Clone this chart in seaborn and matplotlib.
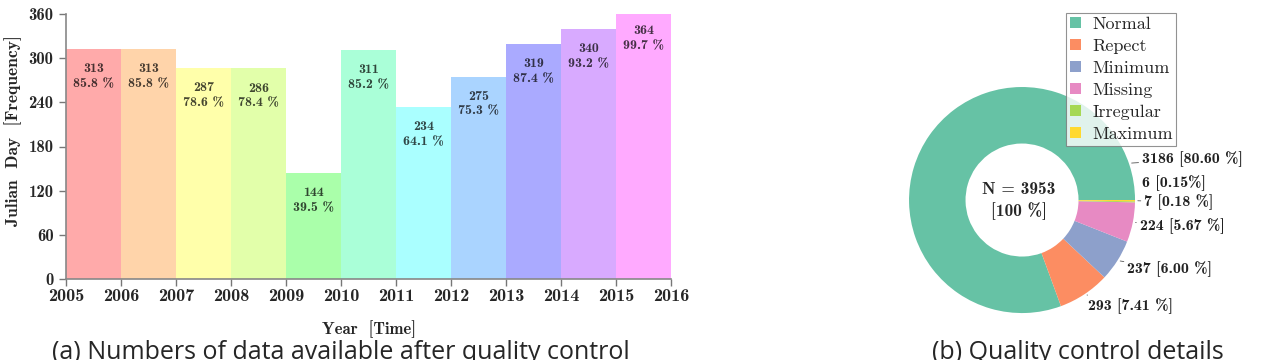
import numpy as np
import pandas as pd
import seaborn as sns
import matplotlib.pyplot as plt
from matplotlib.colors import to_rgb

sns.set_theme(style="white")
plt.rcParams["font.family"] = ["cmb10", "DejaVu Serif"]
plt.rcParams["axes.unicode_minus"] = False

# --- data ---
years = [2005, 2006, 2007, 2008, 2009, 2010, 2011, 2012, 2013, 2014, 2015]
days = [313, 313, 287, 286, 144, 311, 234, 275, 319, 340, 364]
pcts = ["85.8 %", "85.8 %", "78.6 %", "78.4 %", "39.5 %", "85.2 %",
        "64.1 %", "75.3 %", "87.4 %", "93.2 %", "99.7 %"]
bar_colors = ["#FFAAAA", "#FFD4AA", "#FFFFAA", "#E2FFAA", "#AAFFAA", "#AAFFD8",
              "#AAFFFF", "#AAD4FF", "#AAAAFF", "#D8AAFF", "#FFAAFF"]

qc_labels = ["Normal", "Repect", "Minimum", "Missing", "Irregular", "Maximum"]
qc_counts = [3186, 293, 237, 224, 6, 7]
qc_texts = ["3186 [80.60 %]", "293 [7.41 %]", "237 [6.00 %]", "224 [5.67 %]",
            "6 [0.15%]", "7 [0.18 %]"]

fig = plt.figure(figsize=(12.81, 3.6), dpi=100)

# --- (a) bars: each year fills the interval [year, year+1] ---
ax = fig.add_axes([66 / 1281, 1 - 279 / 360, 605 / 1281, 265 / 360])
df = pd.DataFrame({"year": years, "days": days})
df["mid"] = df["year"] + 0.5
sns.barplot(data=df, x="mid", y="days", hue="year",
            palette=dict(zip(years, bar_colors)), native_scale=True,
            width=1, dodge=False, saturation=1, linewidth=0,
            legend=False, ax=ax)
for y, d, p, c in zip(df["mid"], days, pcts, bar_colors):
    tc = tuple(v * 0.28 for v in to_rgb(c))
    ax.annotate(str(d), (y, d), xytext=(0, -14.5), textcoords="offset points",
                ha="center", va="center", fontsize=10, color=tc,
                annotation_clip=False)
    ax.annotate(p, (y, d), xytext=(0, -25.3), textcoords="offset points",
                ha="center", va="center", fontsize=10, color=tc,
                annotation_clip=False)
ax.set_xlim(2005, 2016)
ax.set_ylim(0, 360)
ax.set_xticks(range(2005, 2017))
ax.set_xticklabels([str(v) for v in range(2005, 2017)])
ax.set_yticks(range(0, 361, 60))
ax.tick_params(axis="both", direction="out", length=5, width=1, color="#777777",
               bottom=True, left=True)
ax.tick_params(axis="x", labelsize=13, pad=2)
ax.tick_params(axis="y", labelsize=12, pad=4)
for s in ["top", "right"]:
    ax.spines[s].set_visible(False)
for s in ["left", "bottom"]:
    ax.spines[s].set_color("#888888")
    ax.spines[s].set_linewidth(1.2)
ax.set_xlabel("Year  [Time]", fontsize=12)
ax.set_ylabel("Julian  Day  [Frequency]", fontsize=12.5)
ax.xaxis.set_label_coords(0.501, -0.155)
ax.yaxis.set_label_coords(-0.073, 0.56)

# --- (b) donut ---
ax2 = fig.add_axes([880 / 1281, 1 - 330 / 360, 401 / 1281, 330 / 360])
pal = sns.color_palette("Set2", 6)
wedges, _ = ax2.pie(qc_counts, colors=pal, startangle=0, counterclock=True,
                    radius=1, wedgeprops=dict(width=0.5, linewidth=0))
ax2.set_xlim(-1.257, 2.292)
ax2.set_ylim(-1.150, 1.770)
ax2.set_aspect("auto")
ax2.axis("off")

text_pos = {"3186 [80.60 %]": (1.06, 0.363), "293 [7.41 %]": (0.58, -0.94),
            "237 [6.00 %]": (0.93, -0.61), "224 [5.67 %]": (1.04, -0.23),
            "6 [0.15%]": (1.06, 0.15), "7 [0.18 %]": (1.08, -0.018)}
for w, t in zip(wedges, qc_texts):
    ang = np.deg2rad((w.theta1 + w.theta2) / 2)
    if t.startswith("3186"):
        ang = np.deg2rad(19)
    xy = (np.cos(ang), np.sin(ang))
    tx, ty = text_pos[t]
    if t.startswith("6 "):
        ax2.text(tx, ty, t, fontsize=11.5, ha="left", va="center", color="#222222")
    else:
        ax2.annotate(t, xy, xytext=(tx, ty), fontsize=11.5, ha="left", va="center",
                     color="#222222",
                     arrowprops=dict(arrowstyle="-", color="#555555", lw=0.6,
                                     shrinkA=0, shrinkB=2))
ax2.text(-0.03, 0.09, "N = 3953", ha="center", va="center", fontsize=12.5)
ax2.text(-0.03, -0.10, "[100 %]", ha="center", va="center", fontsize=12.5)

leg = ax2.legend(wedges, qc_labels, loc="upper left",
                 bbox_to_anchor=(1066 / 1281, 1 - 13 / 360),
                 bbox_transform=fig.transFigure, frameon=True, fancybox=False,
                 prop={"family": ["cmr10", "DejaVu Serif"], "size": 13},
                 handlelength=0.65, handleheight=0.6, handletextpad=0.6,
                 labelspacing=0.37, borderpad=0.2, borderaxespad=0)
leg.get_frame().set_edgecolor("#777777")
leg.get_frame().set_linewidth(0.8)

# --- captions ---
fig.text(341 / 1281, 1 - 359 / 360, "(a) Numbers of data available after quality control",
         ha="center", va="baseline", fontsize=18, family="Open Sans")
fig.text(1078 / 1281, 1 - 359 / 360, "(b) Quality control details",
         ha="center", va="baseline", fontsize=18, family="Open Sans")

fig.savefig("out.png", dpi=100)
